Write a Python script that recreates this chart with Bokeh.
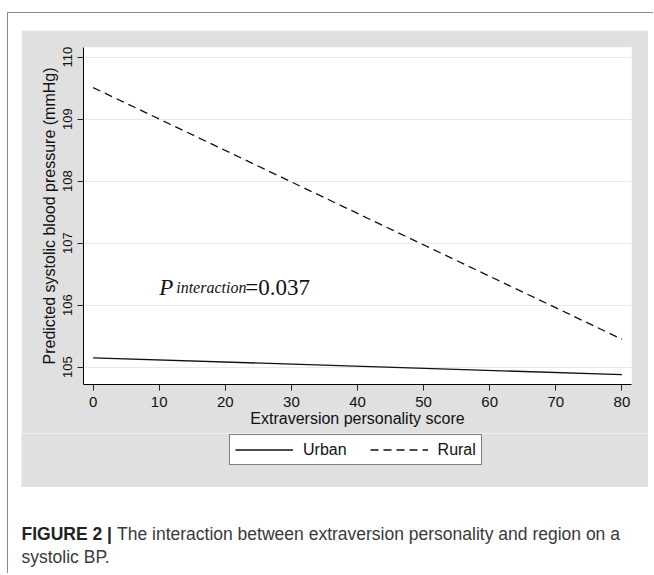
from bokeh.plotting import figure
from bokeh.layouts import column
from bokeh.models import Range1d, FixedTicker, Label, Legend, LegendItem
from bokeh.embed import file_html
from bokeh.resources import INLINE

# ---- data ----
score = [0, 80]
urban_bp = [105.15, 104.88]
rural_bp = [109.51, 105.45]
series_names = ["Urban", "Rural"]
x_ticks = [0, 10, 20, 30, 40, 50, 60, 70, 80]
y_ticks = [105, 106, 107, 108, 109, 110]
x_title = "Extraversion personality score"
y_title = "Predicted systolic blood pressure (mmHg)"
p_main = "P"
p_sub = "interaction"
p_value = "=0.037"
p_pos = (10, 106.28)
caption_bold = "FIGURE 2 |"
caption_line1 = "The interaction between extraversion personality and region on a"
caption_line2 = "systolic BP."

GREY = "#e0e0e0"
FRAME_LINE = "1px solid #8a8a8a"
INK = "#111111"
URBAN_STYLE = dict(line_color=INK, line_width=1.3)
RURAL_STYLE = dict(line_color=INK, line_width=1.3, line_dash="8 5")

# ---- main chart (grey graph region, white plot region) ----
p = figure(width=627, height=403, output_backend="svg", toolbar_location=None,
           x_range=Range1d(-1.45, 81.45), y_range=Range1d(104.72, 110.156),
           min_border_left=62, min_border_right=17, min_border_top=17, min_border_bottom=49,
           border_fill_color=GREY, background_fill_color="white", outline_line_color=None,
           frame_align=False, margin=(17, 5, 0, 13))

p.line(score, urban_bp, **URBAN_STYLE)
p.line(score, rural_bp, **RURAL_STYLE)

p.xgrid.visible = False
p.ygrid.ticker = FixedTicker(ticks=y_ticks)
p.ygrid.grid_line_color = "#e2ecef"
p.ygrid.grid_line_width = 1

for ax in (p.xaxis[0], p.yaxis[0]):
    ax.axis_line_color = "black"
    ax.axis_line_width = 1
    ax.major_tick_line_color = "#222222"
    ax.major_tick_out = 6
    ax.major_tick_in = 0
    ax.minor_tick_line_color = None
    ax.major_label_text_font = "Liberation Sans"
    ax.major_label_text_color = INK
    ax.axis_label_text_font = "Liberation Sans"
    ax.axis_label_text_font_style = "normal"
    ax.axis_label_text_color = INK
    ax.axis_label_text_font_size = "16px"

p.xaxis.ticker = FixedTicker(ticks=x_ticks)
p.yaxis.ticker = FixedTicker(ticks=y_ticks)
p.xaxis.axis_label = x_title
p.yaxis.axis_label = y_title
p.xaxis.major_label_text_font_size = "15px"
p.xaxis.major_label_standoff = 6
p.xaxis.axis_label_standoff = 0
p.yaxis.major_label_text_font_size = "13px"
p.yaxis.major_label_orientation = "vertical"
p.yaxis.major_label_standoff = 5
p.yaxis.axis_label_standoff = 3

# P_interaction annotation
px, py = p_pos
p.add_layout(Label(x=px, y=py, text=p_main, text_font="Liberation Serif", text_font_style="italic",
                   text_font_size="23px", text_color=INK, text_baseline="alphabetic"))
p.add_layout(Label(x=px, y=py, x_offset=17, text=p_sub, text_font="Liberation Serif",
                   text_font_style="italic", text_font_size="16px", text_color=INK,
                   text_baseline="alphabetic"))
p.add_layout(Label(x=px, y=py, x_offset=86, text=p_value, text_font="Liberation Serif",
                   text_font_size="23px", text_color=INK, text_baseline="alphabetic"))

# ---- legend strip (still inside the grey graph region) ----
leg = figure(width=627, height=54, output_backend="svg", toolbar_location=None,
             x_range=Range1d(0, 1), y_range=Range1d(0, 1),
             x_axis_location=None, y_axis_location=None, min_border=0,
             border_fill_color=GREY, background_fill_color=GREY, outline_line_color=None,
             frame_align=False, margin=(0, 5, 0, 13))
leg.grid.visible = False
# proxies for the legend keys (same series; they fall outside this strip's view)
lu = leg.line(score, urban_bp, **URBAN_STYLE)
lr = leg.line(score, rural_bp, **RURAL_STYLE)
legend = Legend(items=[LegendItem(label=series_names[0], renderers=[lu]),
                       LegendItem(label=series_names[1], renderers=[lr])],
                location=(208, 22), orientation="horizontal", margin=0, padding=5,
                spacing=23, glyph_width=58, glyph_height=19, label_height=19,
                label_standoff=10, label_text_font="Liberation Sans", label_text_font_size="16px",
                label_text_color=INK, border_line_color="black", border_line_width=1,
                background_fill_color="white", background_fill_alpha=1)
leg.add_layout(legend)

# ---- caption ----
cap = figure(width=627, height=86, output_backend="svg", toolbar_location=None,
             x_range=Range1d(0, 627), y_range=Range1d(86, 0),
             x_axis_location=None, y_axis_location=None, min_border=0,
             border_fill_color="white", background_fill_color="white",
             outline_line_color=None, frame_align=False, margin=(0, 5, 0, 13))
cap.grid.visible = False
cap.add_layout(Label(x=0, y=46, text=caption_bold,
                     text_font="Liberation Sans", text_font_style="bold", text_font_size="17.5px",
                     text_color="#222222", text_baseline="alphabetic"))
cap.add_layout(Label(x=95.5, y=46, text=caption_line1,
                     text_font="Liberation Sans", text_font_size="17.5px",
                     text_color="#3a3a3a", text_baseline="alphabetic"))
cap.add_layout(Label(x=0, y=69, text=caption_line2,
                     text_font="Liberation Sans", text_font_size="17.5px",
                     text_color="#3a3a3a", text_baseline="alphabetic"))

root = column(p, leg, cap, spacing=0, margin=(12, 0, 0, 7),
              styles={"border-top": FRAME_LINE, "border-left": FRAME_LINE})

open("out.html", "w").write(file_html(root, INLINE))
